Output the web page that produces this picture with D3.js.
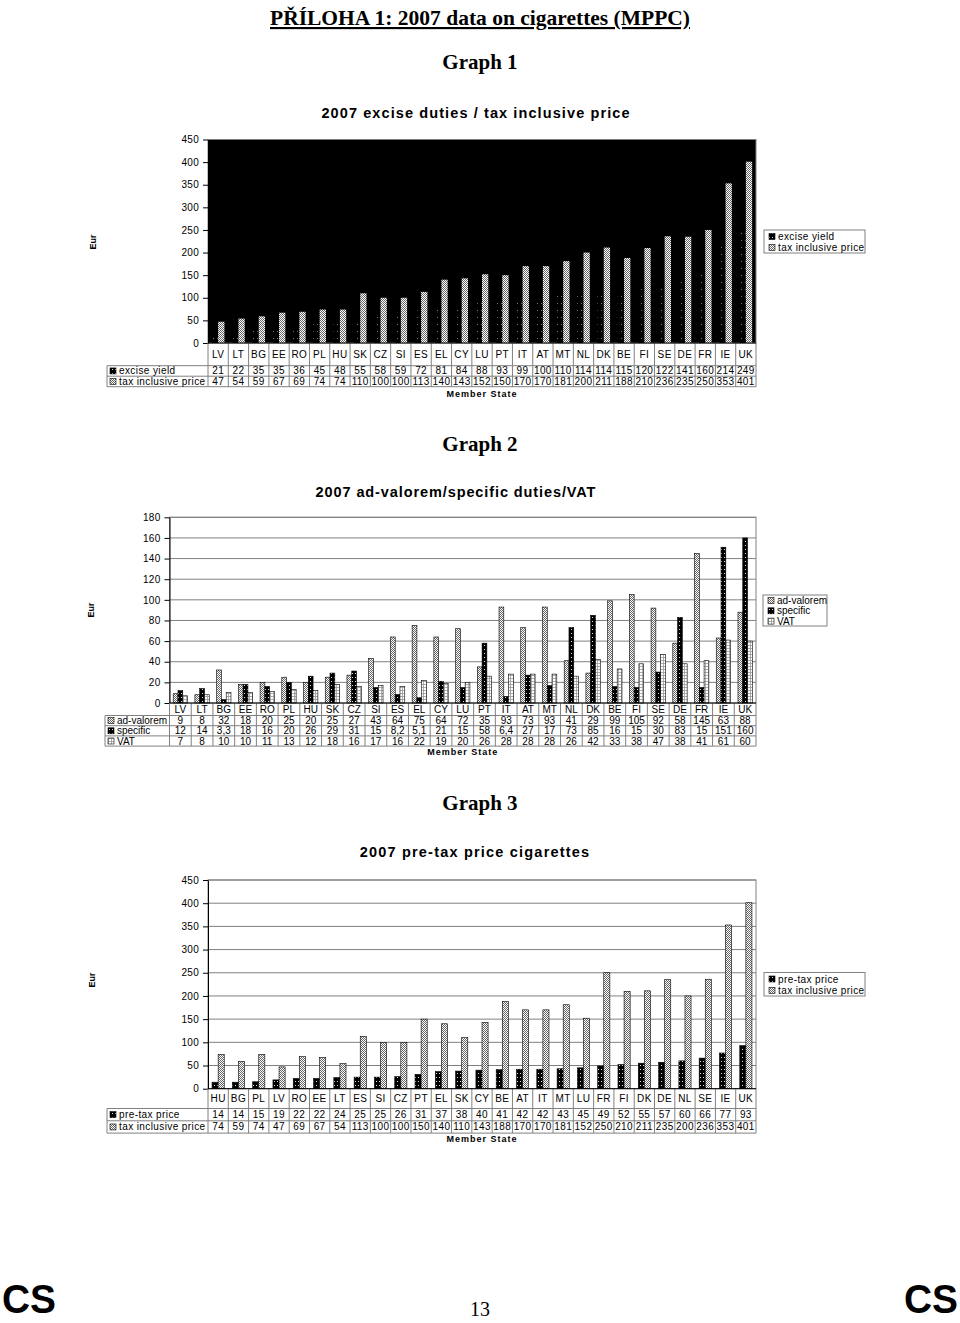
<!DOCTYPE html>
<html><head><meta charset="utf-8">
<script src="https://cdn.jsdelivr.net/npm/d3@7"></script>
<style>body{margin:0;background:#fff}svg{display:block}</style>
</head><body>
<svg id="c" width="960" height="1323"></svg>
<script>
// ---------- DATA ----------
const cats1 = ["LV","LT","BG","EE","RO","PL","HU","SK","CZ","SI","ES","EL","CY","LU","PT","IT","AT","MT","NL","DK","BE","FI","SE","DE","FR","IE","UK"];
const exciseYield1 = [21,22,35,35,36,45,48,55,58,59,72,81,84,88,93,99,100,110,114,114,115,120,122,141,160,214,249];
const taxInclusive1 = [47,54,59,67,69,74,74,110,100,100,113,140,143,152,150,170,170,181,200,211,188,210,236,235,250,353,401];
const yTicks1 = [0,50,100,150,200,250,300,350,400,450];

const cats2 = ["LV","LT","BG","EE","RO","PL","HU","SK","CZ","SI","ES","EL","CY","LU","PT","IT","AT","MT","NL","DK","BE","FI","SE","DE","FR","IE","UK"];
const adValorem2 = [9,8,32,18,20,25,20,25,27,43,64,75,64,72,35,93,73,93,41,29,99,105,92,58,145,63,88];
const specific2 = [12,14,3.3,18,16,20,26,29,31,15,8.2,5.1,21,15,58,6.4,27,17,73,85,16,15,30,83,15,151,160];
const vat2 = [7,8,10,10,11,13,12,18,16,17,16,22,19,20,26,28,28,28,26,42,33,38,47,38,41,61,60];
const yTicks2 = [0,20,40,60,80,100,120,140,160,180];

const cats3 = ["HU","BG","PL","LV","RO","EE","LT","ES","SI","CZ","PT","EL","SK","CY","BE","AT","IT","MT","LU","FR","FI","DK","DE","NL","SE","IE","UK"];
const preTax3 = [14,14,15,19,22,22,24,25,25,26,31,37,38,40,41,42,42,43,45,49,52,55,57,60,66,77,93];
const taxInclusive3 = [74,59,74,47,69,67,54,113,100,100,150,140,110,143,188,170,170,181,152,250,210,211,235,200,236,353,401];
const yTicks3 = [0,50,100,150,200,250,300,350,400,450];

// ---------- SETUP ----------
const svg = d3.select("#c");
const defs = svg.append("defs");
function pat(id,w,h,bg,draw){
  const p = defs.append("pattern").attr("id",id).attr("patternUnits","userSpaceOnUse").attr("width",w).attr("height",h);
  p.append("rect").attr("width",w).attr("height",h).attr("fill",bg);
  draw(p);
}
pat("checker",2,2,"#fff",p=>{
  p.append("rect").attr("width",1).attr("height",1).attr("fill","#666");
  p.append("rect").attr("x",1).attr("y",1).attr("width",1).attr("height",1).attr("fill","#666");
});
pat("dotsW",3,4,"#000",p=>{
  p.append("rect").attr("x",1).attr("y",1).attr("width",1).attr("height",1).attr("fill","#ddd");
});
pat("dotsG",4,7,"#000",p=>{
  p.append("rect").attr("x",1).attr("y",2).attr("width",1).attr("height",1).attr("fill","#777");
});
pat("grid",3,3,"#fff",p=>{
  p.append("rect").attr("width",3).attr("height",0.8).attr("fill","#999");
  p.append("rect").attr("width",0.8).attr("height",3).attr("fill","#999");
});

const SANS = "'Liberation Sans', Arial, sans-serif";
const SERIF = "'Liberation Serif', 'Times New Roman', serif";

function txt(x,y,s,o={}){
  const t = svg.append("text").attr("x",x).attr("y",y).text(s)
    .attr("font-family",o.family||SANS).attr("font-size",o.size||10)
    .attr("font-weight",o.weight||"normal").attr("text-anchor",o.anchor||"middle")
    .attr("fill",o.fill||"#000").attr("letter-spacing",o.ls||0)
    .attr("text-decoration",o.deco||null);
  if(o.len) t.attr("textLength",o.len).attr("lengthAdjust","spacingAndGlyphs");
  return t;
}

// page titles
txt(480,25,"PŘÍLOHA 1: 2007 data on cigarettes (MPPC)",{family:SERIF,size:21.5,weight:"bold",deco:"underline"});
txt(480,69,"Graph 1",{family:SERIF,size:21,weight:"bold"});
txt(476,118,"2007  excise duties / tax inclusive price",{size:14.5,weight:"bold",ls:1.1});
txt(480,451,"Graph 2",{family:SERIF,size:21,weight:"bold"});
txt(456,497,"2007 ad-valorem/specific duties/VAT",{size:14.5,weight:"bold",ls:0.9});
txt(480,810,"Graph 3",{family:SERIF,size:21,weight:"bold"});
txt(475,857,"2007 pre-tax price cigarettes",{size:14.5,weight:"bold",ls:1.2});

// footer
txt(2,1313,"CS",{size:40,weight:"bold",anchor:"start",len:54});
txt(904,1313,"CS",{size:40,weight:"bold",anchor:"start",len:54});
txt(480,1316,"13",{family:SERIF,size:20});

function swatch(g,x,y,s,size){
  g.append("rect").attr("x",x).attr("y",y-size/2).attr("width",size).attr("height",size)
    .attr("fill",`url(#${s.swatch||s.pattern})`).attr("stroke","#000").attr("stroke-width",0.6);
}

function chart(o){
  const g = svg.append("g");
  const x = d3.scaleBand().domain(o.cats).range([o.left,o.right]);
  const y = d3.scaleLinear().domain([0,o.max]).range([o.zero,o.top]);
  const bw = x.bandwidth();
  const inner = d3.scaleBand().domain(d3.range(o.series.length))
    .range([bw*(1-o.groupFrac)/2 + (o.shift||0), bw*(1+o.groupFrac)/2 + (o.shift||0)]);

  // plot area
  g.append("rect").attr("x",o.left).attr("y",o.top).attr("width",o.right-o.left).attr("height",o.zero-o.top)
    .attr("fill",o.plotFill).attr("stroke","#808080").attr("stroke-width",1);
  if(o.grid){
    g.selectAll(null).data(o.ticks.filter(t=>t>0)).join("line")
      .attr("x1",o.left).attr("x2",o.right).attr("y1",d=>y(d)).attr("y2",d=>y(d))
      .attr("stroke","#808080").attr("stroke-width",1);
  }
  // bars
  o.series.forEach((s,i)=>{
    g.selectAll(null).data(o.cats.map((c,j)=>({c,v:s.values[j]}))).join("rect")
      .attr("x",d=>x(d.c)+inner(i)).attr("width",inner.bandwidth())
      .attr("y",d=>y(d.v)).attr("height",d=>o.zero-y(d.v))
      .attr("fill",`url(#${s.pattern})`)
      .attr("stroke",o.barStroke||"#000").attr("stroke-width",0.6);
  });
  // y axis
  const ax = g.append("g").attr("transform",`translate(${o.left},0)`)
    .call(d3.axisLeft(y).tickValues(o.ticks).tickSize(5).tickPadding(4).tickSizeOuter(0));
  ax.select(".domain").attr("stroke","#000");
  ax.selectAll(".tick line").attr("stroke","#000");
  ax.selectAll(".tick text").attr("font-family",SANS).attr("font-size",10).attr("fill","#000").attr("letter-spacing",0.3);

  // table
  const rowH = o.rowH, nR = o.series.length;
  const tb = o.catBottom + rowH*nR;
  const lc = "#808080";
  g.append("line").attr("x1",o.tableLeft).attr("x2",o.right).attr("y1",o.catBottom).attr("y2",o.catBottom).attr("stroke",lc);
  for(let r=1;r<=nR;r++){
    g.append("line").attr("x1",o.tableLeft).attr("x2",o.right).attr("y1",o.catBottom+rowH*r).attr("y2",o.catBottom+rowH*r).attr("stroke",lc);
  }
  const bounds = o.cats.map(c=>x(c)).concat([o.right]);
  g.selectAll(null).data(bounds).join("line")
    .attr("x1",d=>d).attr("x2",d=>d).attr("y1",o.zero).attr("y2",tb).attr("stroke",lc);
  g.append("line").attr("x1",o.tableLeft).attr("x2",o.tableLeft).attr("y1",o.catBottom).attr("y2",tb).attr("stroke",lc);
  g.append("line").attr("x1",o.left).attr("x2",o.right).attr("y1",o.zero).attr("y2",o.zero).attr("stroke","#000");
  g.selectAll(null).data(o.cats).join("text")
    .attr("x",c=>x(c)+bw/2).attr("y",(o.zero+o.catBottom)/2+3.5).text(c=>c)
    .attr("font-family",SANS).attr("font-size",10).attr("text-anchor","middle").attr("letter-spacing",o.ls||0);
  o.series.forEach((s,i)=>{
    const cy = o.catBottom + rowH*i + rowH/2;
    swatch(g,o.tableLeft+3,cy,s,6);
    g.append("text").attr("x",o.tableLeft+12).attr("y",cy+3.5).text(s.name)
      .attr("font-family",SANS).attr("font-size",10).attr("letter-spacing",o.ls||0);
    const labels = s.labels || s.values.map(String);
    g.selectAll(null).data(o.cats.map((c,j)=>({c,l:labels[j]}))).join("text")
      .attr("x",d=>x(d.c)+bw/2).attr("y",cy+3.5).text(d=>d.l)
      .attr("font-family",SANS).attr("font-size",10).attr("text-anchor","middle").attr("letter-spacing",o.ls||0);
  });
  g.append("text").attr("x",(o.left+o.right)/2).attr("y",o.memberY).text("Member State")
    .attr("font-family",SANS).attr("font-size",9).attr("font-weight","bold").attr("text-anchor","middle").attr("letter-spacing",1);
  g.append("text").attr("transform",`translate(${o.eurX},${o.eurY}) rotate(-90)`).text("Eur")
    .attr("font-family",SANS).attr("font-size",9).attr("font-weight","bold").attr("text-anchor","middle");
  const L = o.legend;
  g.append("rect").attr("x",L.x).attr("y",L.y).attr("width",L.w).attr("height",L.h)
    .attr("fill","#fff").attr("stroke","#808080");
  o.series.forEach((s,i)=>{
    const cy = L.y + L.pad + L.step*i;
    swatch(g,L.x+5,cy,s,6);
    g.append("text").attr("x",L.x+14).attr("y",cy+3.5).text(s.name)
      .attr("font-family",SANS).attr("font-size",10).attr("letter-spacing",o.ls||0);
  });
}

chart({
  cats:cats1, max:450, ticks:yTicks1,
  left:208, right:756, top:139.5, zero:343,
  plotFill:"#000", grid:false, barStroke:"none", groupFrac:0.62, shift:0,
  series:[
    {name:"excise yield", values:exciseYield1, pattern:"dotsG", swatch:"dotsW"},
    {name:"tax inclusive price", values:taxInclusive1, pattern:"checker"}
  ],
  catBottom:365.7, rowH:10.5, tableLeft:107, ls:0.4,
  memberY:397, eurX:96, eurY:242,
  legend:{x:764,y:230,w:101,h:23,pad:6.5,step:11}
});

chart({
  cats:cats2, max:180, ticks:yTicks2,
  left:169.5, right:756, top:517.3, zero:703,
  plotFill:"#fff", grid:true, groupFrac:0.66,
  series:[
    {name:"ad-valorem", values:adValorem2, pattern:"checker"},
    {name:"specific", values:specific2, labels:specific2.map(v=>String(v).replace(".",",")), pattern:"dotsW"},
    {name:"VAT", values:vat2, pattern:"grid"}
  ],
  catBottom:715.5, rowH:10.2, tableLeft:105, ls:0,
  memberY:755, eurX:94, eurY:610,
  legend:{x:763,y:595,w:64,h:31,pad:5.5,step:10.3}
});

chart({
  cats:cats3, max:450, ticks:yTicks3,
  left:208, right:756, top:880, zero:1088.7,
  plotFill:"#fff", grid:true, groupFrac:0.6,
  series:[
    {name:"pre-tax price", values:preTax3, pattern:"dotsW"},
    {name:"tax inclusive price", values:taxInclusive3, pattern:"checker"}
  ],
  catBottom:1108.5, rowH:12.3, tableLeft:107, ls:0.4,
  memberY:1142, eurX:95, eurY:980,
  legend:{x:764,y:972.5,w:101,h:23.5,pad:6.5,step:11.3}
});
</script>
</body></html>
